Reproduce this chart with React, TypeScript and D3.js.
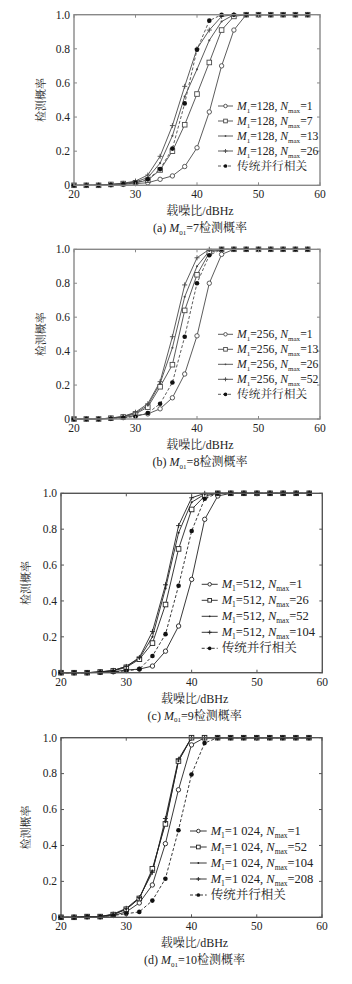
import React from "react";
import * as d3 from "d3";

// carrier-to-noise ratio samples (dBHz)
const snr = [20, 22, 24, 26, 28, 30, 32, 34, 36, 38, 40, 42, 44, 46, 48, 50, 52, 54, 56, 58];
const xTicks = [20, 30, 40, 50, 60];
const yTicks = [0, 0.2, 0.4, 0.6, 0.8, 1.0];

// (a) M01 = 7
const a1 = [0, 0, 0, 0.003, 0.005, 0.01, 0.015, 0.035, 0.055, 0.11, 0.22, 0.43, 0.7, 0.91, 1, 1, 1, 1, 1, 1];
const a7 = [0, 0, 0, 0.005, 0.01, 0.015, 0.03, 0.09, 0.2, 0.355, 0.535, 0.72, 0.91, 0.99, 1, 1, 1, 1, 1, 1];
const a13 = [0, 0, 0.002, 0.005, 0.01, 0.02, 0.045, 0.13, 0.29, 0.52, 0.68, 0.85, 0.96, 1, 1, 1, 1, 1, 1, 1];
const a26 = [0, 0, 0.002, 0.005, 0.012, 0.025, 0.06, 0.17, 0.35, 0.58, 0.8, 0.91, 0.99, 1, 1, 1, 1, 1, 1, 1];
const aTrad = [0, 0, 0, 0.003, 0.007, 0.015, 0.035, 0.095, 0.215, 0.48, 0.795, 0.965, 1, 1, 1, 1, 1, 1, 1, 1];

// (b) M01 = 8
const b1 = [0, 0, 0, 0.003, 0.008, 0.02, 0.03, 0.06, 0.125, 0.265, 0.49, 0.8, 0.97, 1, 1, 1, 1, 1, 1, 1];
const b13 = [0, 0, 0, 0.005, 0.012, 0.03, 0.07, 0.19, 0.32, 0.64, 0.85, 0.98, 1, 1, 1, 1, 1, 1, 1, 1];
const b26 = [0, 0, 0, 0.005, 0.015, 0.035, 0.08, 0.21, 0.42, 0.72, 0.9, 0.99, 1, 1, 1, 1, 1, 1, 1, 1];
const b52 = [0, 0, 0, 0.006, 0.015, 0.04, 0.09, 0.22, 0.485, 0.79, 0.95, 1, 1, 1, 1, 1, 1, 1, 1, 1];
const bTrad = [0, 0, 0, 0.003, 0.007, 0.015, 0.035, 0.09, 0.215, 0.485, 0.8, 0.965, 1, 1, 1, 1, 1, 1, 1, 1];

// (c) M01 = 9
const c1 = [0, 0, 0, 0.002, 0.005, 0.015, 0.02, 0.037, 0.12, 0.26, 0.52, 0.855, 0.985, 1, 1, 1, 1, 1, 1, 1];
const c26 = [0, 0, 0, 0.004, 0.01, 0.03, 0.075, 0.165, 0.38, 0.69, 0.91, 0.985, 1, 1, 1, 1, 1, 1, 1, 1];
const c52 = [0, 0, 0, 0.004, 0.012, 0.035, 0.08, 0.2, 0.47, 0.78, 0.95, 0.995, 1, 1, 1, 1, 1, 1, 1, 1];
const c104 = [0, 0, 0, 0.005, 0.013, 0.035, 0.085, 0.23, 0.49, 0.82, 0.975, 1, 1, 1, 1, 1, 1, 1, 1, 1];
const cTrad = [0, 0, 0, 0.002, 0.005, 0.01, 0.02, 0.093, 0.215, 0.485, 0.79, 0.97, 1, 1, 1, 1, 1, 1, 1, 1];

// (d) M01 = 10
const d1 = [0, 0, 0.003, 0.003, 0.01, 0.03, 0.08, 0.18, 0.41, 0.71, 0.96, 1, 1, 1, 1, 1, 1, 1, 1, 1];
const d52 = [0, 0, 0.004, 0.004, 0.015, 0.045, 0.105, 0.27, 0.52, 0.87, 1, 1, 1, 1, 1, 1, 1, 1, 1, 1];
const d104 = [0, 0, 0.004, 0.004, 0.015, 0.045, 0.105, 0.26, 0.53, 0.87, 1, 1, 1, 1, 1, 1, 1, 1, 1, 1];
const d208 = [0, 0, 0.004, 0.004, 0.018, 0.05, 0.11, 0.25, 0.55, 0.88, 1, 1, 1, 1, 1, 1, 1, 1, 1, 1];
const dTrad = [0, 0, 0.003, 0.003, 0.01, 0.02, 0.03, 0.093, 0.215, 0.485, 0.795, 0.97, 1, 1, 1, 1, 1, 1, 1, 1];

const markers = ["circle", "square", "dot", "plus", "filled"];

const panels = [
  {
    tag: "(a)", m01: "7", m1: "128", nmax: ["1", "7", "13", "26"], series: [a1, a7, a13, a26, aTrad],
    left: 74, right: 320, top: 14.7, bottom: 185.3, ylabX: 42,
    legX: 218, legLen: 15, legY: 106, legStep: 15, legFont: 11.7, stroke: "#4a4a4a", frame: "#888",
  },
  {
    tag: "(b)", m01: "8", m1: "256", nmax: ["1", "13", "26", "52"], series: [b1, b13, b26, b52, bTrad],
    left: 74, right: 320, top: 249.3, bottom: 419, ylabX: 42,
    legX: 218, legLen: 15, legY: 334.3, legStep: 15, legFont: 11.7, stroke: "#4a4a4a", frame: "#888",
  },
  {
    tag: "(c)", m01: "9", m1: "512", nmax: ["1", "26", "52", "104"], series: [c1, c26, c52, c104, cTrad],
    left: 61, right: 322.3, top: 493.3, bottom: 672.7, ylabX: 27,
    legX: 201.7, legLen: 16, legY: 584.3, legStep: 16, legFont: 12.5, stroke: "#222", frame: "#555",
  },
  {
    tag: "(d)", m01: "10", m1: "1 024", nmax: ["1", "52", "104", "208"], series: [d1, d52, d104, d208, dTrad],
    left: 61, right: 322, top: 737.7, bottom: 917.3, ylabX: 27,
    legX: 190, legLen: 16.7, legY: 831, legStep: 16, legFont: 12.5, stroke: "#222", frame: "#555",
  },
];

const serif = "'Liberation Serif', 'Times New Roman', 'Noto Serif CJK SC', 'Noto Sans CJK SC', serif";

function Marker({ kind, x, y, color, s = 1 }) {
  if (kind === "circle")
    return <circle cx={x} cy={y} r={2.2 * s} fill="white" stroke={color} strokeWidth={0.9} />;
  if (kind === "square")
    return (
      <rect x={x - 2.3 * s} y={y - 2.3 * s} width={4.6 * s} height={4.6 * s} fill="white" stroke={color} strokeWidth={0.9} />
    );
  if (kind === "dot") return <circle cx={x} cy={y} r={1.1 * s} fill={color} />;
  if (kind === "plus")
    return (
      <path
        d={`M${x - 2.5 * s},${y}H${x + 2.5 * s}M${x},${y - 2.5 * s}V${y + 2.5 * s}`}
        stroke={color}
        strokeWidth={0.9}
      />
    );
  return <circle cx={x} cy={y} r={2.3 * s} fill="#111" />;
}

function Panel({ p }) {
  const x = d3.scaleLinear().domain([20, 60]).range([p.left, p.right]);
  const y = d3.scaleLinear().domain([0, 1]).range([p.bottom, p.top]);
  const line = d3
    .line<number>()
    .x((_, i) => x(snr[i]))
    .y((d) => y(d));
  const cx = (p.left + p.right) / 2 + 3;
  const cy = (p.top + p.bottom) / 2;

  return (
    <g fontFamily={serif}>
      <rect x={p.left} y={p.top} width={p.right - p.left} height={p.bottom - p.top} fill="white" />
      {p.series.map((s, si) => (
        <path
          key={"l" + si}
          d={line(s)}
          fill="none"
          stroke={p.stroke}
          strokeWidth={0.9}
          strokeDasharray={si === 4 ? "3,2" : undefined}
        />
      ))}
      {p.series.map((s, si) =>
        s.map((v, i) => <Marker key={si + "-" + i} kind={markers[si]} x={x(snr[i])} y={y(v)} color={p.stroke} />)
      )}
      <rect
        x={p.left}
        y={p.top}
        width={p.right - p.left}
        height={p.bottom - p.top}
        fill="none"
        stroke={p.frame}
        strokeWidth={1.4}
      />
      {xTicks.map((t) => (
        <g key={"x" + t}>
          <line x1={x(t)} x2={x(t)} y1={p.bottom} y2={p.bottom - 3} stroke={p.frame} />
          <line x1={x(t)} x2={x(t)} y1={p.top} y2={p.top + 3} stroke={p.frame} />
          <text x={x(t)} y={p.bottom + 13} textAnchor="middle" fontSize={11.5} fill="#222">
            {t}
          </text>
        </g>
      ))}
      {yTicks.map((t) => (
        <g key={"y" + t}>
          <line x1={p.left} x2={p.left + 3} y1={y(t)} y2={y(t)} stroke={p.frame} />
          <line x1={p.right} x2={p.right - 3} y1={y(t)} y2={y(t)} stroke={p.frame} />
          <text x={p.left - 4} y={y(t) + 3.8} textAnchor="end" fontSize={11.5} fill="#222">
            {t === 0 ? "0" : t.toFixed(1)}
          </text>
        </g>
      ))}
      <text
        transform={`translate(${p.ylabX},${cy}) rotate(-90)`}
        textAnchor="middle"
        dominantBaseline="middle"
        fontSize={11}
        fill="#222"
      >
        检测概率
      </text>
      <text x={cx} y={p.bottom + 30} textAnchor="middle" fontSize={12} fill="#222">
        载噪比/dBHz
      </text>
      <text x={cx} y={p.bottom + 47} textAnchor="middle" fontSize={12} fill="#222">
        {p.tag + " "}
        <tspan fontStyle="italic">M</tspan>
        <tspan fontSize={7} dy={2.5}>01</tspan>
        <tspan dy={-2.5}>{"=" + p.m01 + "检测概率"}</tspan>
      </text>
      {markers.map((m, li) => {
        const ly = p.legY + li * p.legStep;
        const x0 = p.legX;
        const x1 = p.legX + p.legLen;
        return (
          <g key={"lg" + li}>
            <line
              x1={x0}
              x2={x1}
              y1={ly}
              y2={ly}
              stroke={p.stroke}
              strokeWidth={0.9}
              strokeDasharray={li === 4 ? "3,2" : undefined}
            />
            <Marker kind={m} x={(x0 + x1) / 2} y={ly} color={p.stroke} s={0.8} />
            {li < 4 ? (
              <text x={x1 + 4} y={ly + 4} fontSize={p.legFont} fill="#222">
                <tspan fontStyle="italic">M</tspan>
                <tspan fontSize={p.legFont * 0.6} dy={3}>1</tspan>
                <tspan dy={-3}>{"=" + p.m1 + ", "}</tspan>
                <tspan fontStyle="italic">N</tspan>
                <tspan fontSize={p.legFont * 0.6} dy={3}>max</tspan>
                <tspan dy={-3}>{"=" + p.nmax[li]}</tspan>
              </text>
            ) : (
              <text x={x1 + 4} y={ly + 4} fontSize={p.legFont} fill="#222">
                传统并行相关
              </text>
            )}
          </g>
        );
      })}
    </g>
  );
}

export default function App() {
  return (
    <div style={{ position: "absolute", left: 0, top: 0 }}>
      <svg width={352} height={984} style={{ display: "block", background: "white" }}>
        {panels.map((p) => (
          <Panel key={p.tag} p={p} />
        ))}
      </svg>
    </div>
  );
}
